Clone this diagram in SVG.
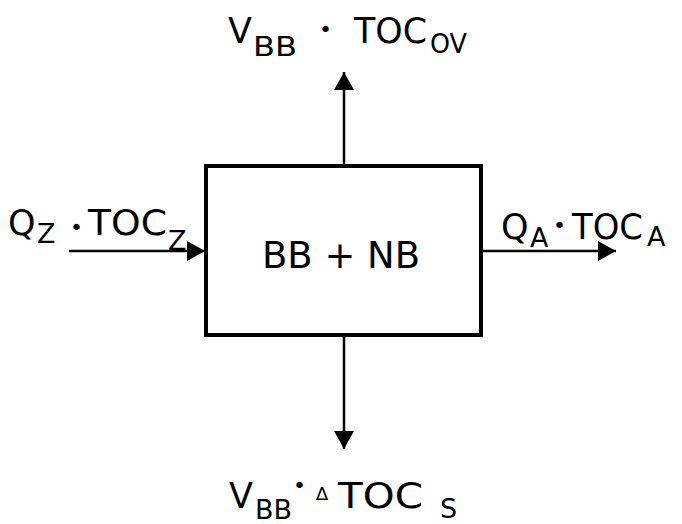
<svg xmlns="http://www.w3.org/2000/svg" width="682" height="524" viewBox="0 0 682 524">
<style>
.t{font-family:"DejaVu Sans","Liberation Sans",sans-serif;fill:#000}
.m{font-size:35px}
.s{font-size:27px}
.d{font-size:22px}
.c{stroke:#000;stroke-width:2.5;fill:none}
.box{fill:#fff;stroke:#000;stroke-width:4}
</style>
<defs>
<marker id="ah" markerUnits="userSpaceOnUse" markerWidth="20" markerHeight="22" refX="18" refY="11" orient="auto" viewBox="0 0 20 22">
<path d="M0,1 L18,11 L0,21 Z" fill="#000"/>
</marker>
</defs>
<rect width="682" height="524" fill="#fff"/>
<g id="connectors">
<line class="c" x1="344" y1="166" x2="344" y2="72" marker-end="url(#ah)"/>
<line class="c" x1="344" y1="335" x2="344" y2="449" marker-end="url(#ah)"/>
<line class="c" x1="69" y1="251" x2="205" y2="251" marker-end="url(#ah)"/>
<line class="c" x1="481" y1="251" x2="616" y2="251" marker-end="url(#ah)"/>
</g>
<g id="node-box">
<rect class="box" x="206" y="166" width="275" height="169"/>
<text class="t" x="262" y="268" font-size="38" textLength="158" lengthAdjust="spacingAndGlyphs">BB + NB</text>
</g>
<g id="label-top">
<text class="t m" x="228" y="43">V</text>
<text class="t s" x="253" y="56" textLength="44" lengthAdjust="spacingAndGlyphs">BB</text>
<text class="t d" x="319" y="37">•</text>
<text class="t m" x="354" y="43" textLength="73" lengthAdjust="spacingAndGlyphs">TOC</text>
<text class="t s" x="430" y="53" textLength="37" lengthAdjust="spacingAndGlyphs">OV</text>
</g>
<g id="label-left">
<text class="t m" x="8" y="235">Q</text>
<text class="t s" x="37" y="243">Z</text>
<text class="t d" x="70" y="235">•</text>
<text class="t m" x="88" y="235" textLength="79" lengthAdjust="spacingAndGlyphs">TOC</text>
<text class="t s" x="168" y="250">Z</text>
</g>
<g id="label-right">
<text class="t m" x="501" y="239">Q</text>
<text class="t s" x="530" y="247">A</text>
<text class="t d" x="553" y="233">•</text>
<text class="t m" x="572" y="239" textLength="71" lengthAdjust="spacingAndGlyphs">TOC</text>
<text class="t s" x="647" y="246">A</text>
</g>
<g id="label-bottom">
<text class="t m" x="229" y="508">V</text>
<text class="t s" x="255" y="519" textLength="37" lengthAdjust="spacingAndGlyphs">BB</text>
<text class="t d" x="293" y="493">•</text>
<text class="t" x="316" y="500" font-size="18">∆</text>
<text class="t m" x="338" y="508" textLength="85" lengthAdjust="spacingAndGlyphs">TOC</text>
<text class="t s" x="440" y="518">S</text>
</g>
</svg>
